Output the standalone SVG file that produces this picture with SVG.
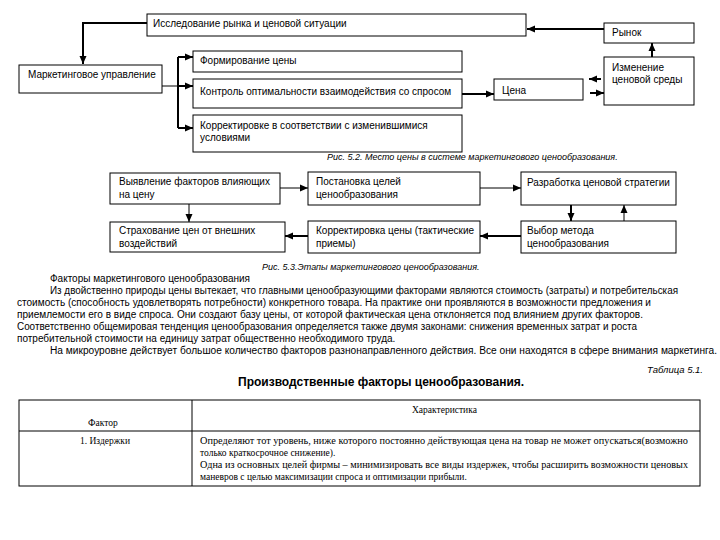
<svg xmlns="http://www.w3.org/2000/svg" width="720" height="540" viewBox="0 0 720 540">
<style>
.box{fill:#fff;stroke:#000;stroke-width:1}
.t{font-family:"Liberation Sans",Arial,sans-serif;font-size:10px;fill:#000}
.cap{font-family:"Liberation Sans",Arial,sans-serif;font-size:9px;font-style:italic;fill:#000}
.s{font-family:"Liberation Serif","Times New Roman",serif;font-size:9.5px;fill:#000}
.b{font-family:"Liberation Sans",Arial,sans-serif;font-size:12px;font-weight:bold;fill:#000}
.c{fill:none;stroke:#000;stroke-width:1}
.k{fill:none;stroke:#000;stroke-width:2}
.ar{marker-end:url(#ah)}
</style>
<defs>
<marker id="ah" markerUnits="userSpaceOnUse" markerWidth="8" markerHeight="8" viewBox="0 0 8 8" refX="8" refY="4" orient="auto">
<path d="M0,0.5 L8,4 L0,7.5 Z" fill="#000"/>
</marker>
</defs>
<rect width="720" height="540" fill="#fff"/>

<g id="n-issl"><rect class="box" x="147" y="14" width="379" height="22"/><text class="t" x="153" y="27">Исследование рынка и ценовой ситуации</text></g>
<g id="n-rynok"><rect class="box" x="604" y="23" width="90" height="20"/><text class="t" x="612" y="36">Рынок</text></g>
<g id="n-mark"><rect class="box" x="19" y="65" width="143" height="28"/><text class="t" x="28" y="78">Маркетинговое управление</text></g>
<g id="n-form"><rect class="box" x="193" y="51" width="269" height="21"/><text class="t" x="200" y="64">Формирование цены</text></g>
<g id="n-kontr"><rect class="box" x="193" y="79" width="269" height="29"/><text class="t" x="200" y="95">Контроль оптимальности взаимодействия со спросом</text></g>
<g id="n-korr"><rect class="box" x="193" y="115" width="269" height="37"/><text class="t" x="200" y="129">Корректировке в соответствии с изменившимися</text><text class="t" x="200" y="141">условиями</text></g>
<g id="n-cena"><rect class="box" x="494" y="79" width="89" height="21"/><text class="t" x="502" y="94">Цена</text></g>
<g id="n-izm"><rect class="box" x="604" y="57" width="90" height="48"/><text class="t" x="612" y="71">Изменение</text><text class="t" x="612" y="83">ценовой среды</text></g>
<text class="cap" x="327" y="160">Рис. 5.2. Место цены в системе маркетингового ценообразования.</text>

<g id="n-vyav"><rect class="box" x="110" y="173" width="170" height="31"/><text class="t" x="119" y="185">Выявление факторов влияющих</text><text class="t" x="119" y="198">на цену</text></g>
<g id="n-post"><rect class="box" x="308" y="172" width="172" height="33"/><text class="t" x="316" y="185">Постановка целей</text><text class="t" x="316" y="198">ценообразования</text></g>
<g id="n-razr"><rect class="box" x="521" y="172" width="155" height="33"/><text class="t" x="527" y="186">Разработка ценовой стратегии</text></g>
<g id="n-strah"><rect class="box" x="110" y="222" width="175" height="30"/><text class="t" x="119" y="234">Страхование цен от внешних</text><text class="t" x="119" y="247">воздействий</text></g>
<g id="n-korr2"><rect class="box" x="308" y="221" width="172" height="32"/><text class="t" x="316" y="234">Корректировка цены (тактические</text><text class="t" x="316" y="247">приемы)</text></g>
<g id="n-vybor"><rect class="box" x="521" y="221" width="155" height="32"/><text class="t" x="527" y="234">Выбор метода</text><text class="t" x="527" y="247">ценообразования</text></g>
<text class="cap" x="262" y="270">Рис. 5.3.Этапы маркетингового ценообразования.</text>

<g id="connectors">
<path class="k ar" d="M604,29 H527"/>
<path class="k ar" d="M147,23 H83 V64"/>
<path class="c" d="M162,86 H178"/>
<path class="k ar" d="M178,86 H193"/>
<path class="k" d="M178,57 V128"/>
<path class="k ar" d="M178,57 H193"/>
<path class="k ar" d="M178,128 H193"/>
<path class="k ar" d="M462,94 H494"/>
<path class="k ar" d="M601,79 H589"/>
<path class="k ar" d="M590,93 H604"/>
<path class="k ar" d="M652,57 V43"/>
<path class="c ar" d="M280,188 H308"/>
<path class="c ar" d="M480,188 H521"/>
<path class="k ar" d="M571,205 V221"/>
<path class="c ar" d="M624,221 V205"/>
<path class="k ar" d="M521,236 H480"/>
<path class="k ar" d="M308,236 H285"/>
<path class="c ar" d="M189,204 V222"/>
</g>

<text class="t" x="50" y="282">Факторы маркетингового ценообразования</text>
<text class="t" x="50" y="294" textLength="628" lengthAdjust="spacingAndGlyphs">Из двойственно природы цены вытекает, что главными ценообразующими факторами являются стоимость (затраты) и потребительская</text>
<text class="t" x="17" y="306" textLength="634" lengthAdjust="spacingAndGlyphs">стоимость (способность удовлетворять потребности) конкретного товара. На практике они проявляются в возможности предложения и</text>
<text class="t" x="17" y="318" textLength="626" lengthAdjust="spacingAndGlyphs">приемлемости его в виде спроса. Они создают базу цены, от которой фактическая цена отклоняется под влиянием других факторов.</text>
<text class="t" x="17" y="330" textLength="620" lengthAdjust="spacingAndGlyphs">Соответственно общемировая тенденция ценообразования определяется также двумя законами: снижения временных затрат и роста</text>
<text class="t" x="17" y="342">потребительной стоимости на единицу затрат общественно необходимого труда.</text>
<text class="t" x="50" y="354" textLength="667" lengthAdjust="spacingAndGlyphs">На микроуровне действует большое количество факторов разнонаправленного действия. Все они находятся в сфере внимания маркетинга.</text>

<text class="cap" x="703" y="373" text-anchor="end" style="font-size:9.5px">Таблица 5.1.</text>
<text class="b" x="238" y="386">Производственные факторы ценообразования.</text>

<g id="table">
<rect class="box" x="19" y="400" width="681" height="86"/>
<path class="c" d="M19,431 H700 M192,400 V486"/>
<text class="s" x="88" y="426">Фактор</text>
<text class="s" x="412" y="413">Характеристика</text>
<text class="s" x="80" y="444">1. Издержки</text>
<text class="s" x="200" y="444" textLength="488" lengthAdjust="spacingAndGlyphs">Определяют тот уровень, ниже которого постоянно действующая цена на товар не может опускаться(возможно</text>
<text class="s" x="200" y="456">только краткосрочное снижение).</text>
<text class="s" x="200" y="468" textLength="488" lengthAdjust="spacingAndGlyphs">Одна из основных целей фирмы – минимизировать все виды издержек, чтобы расширить возможности ценовых</text>
<text class="s" x="200" y="480">маневров с целью максимизации спроса и оптимизации прибыли.</text>
</g>
</svg>
